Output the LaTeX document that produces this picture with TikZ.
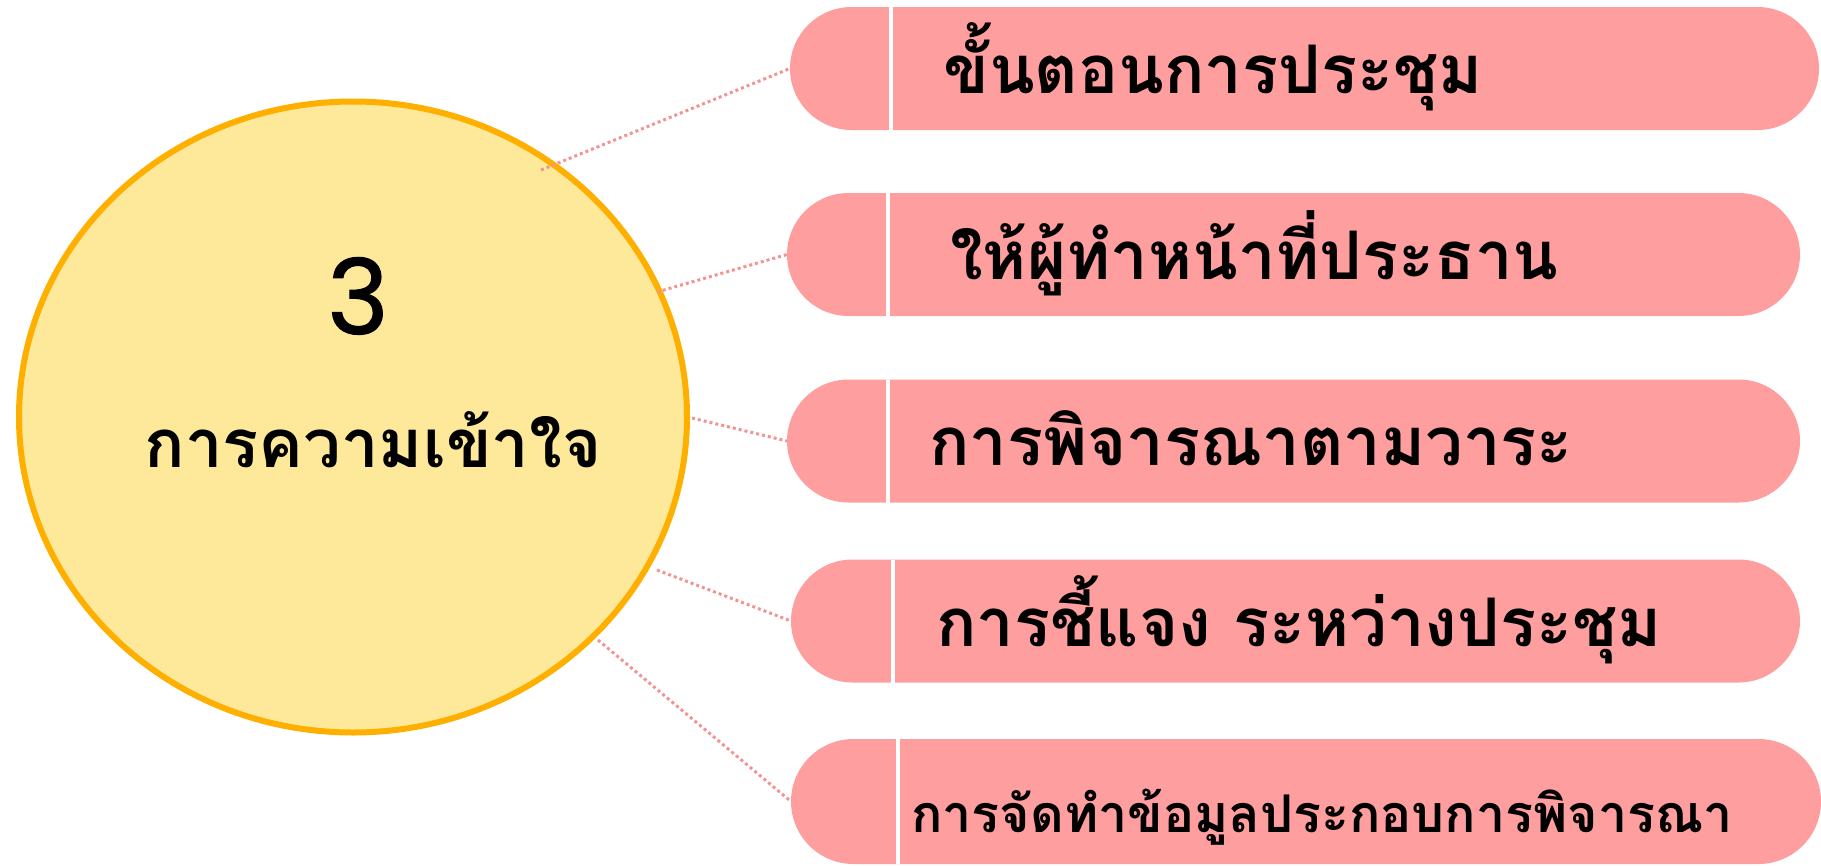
\documentclass[tikz,border=0pt]{standalone}
\usepackage{fontspec}
\newfontfamily\thai[Script=Thai]{Loma}
\newfontfamily\numfont[FakeBold=1.2]{Poppins}
\usetikzlibrary{shapes.geometric,shapes.misc}
\definecolor{barpink}{HTML}{FE9E9E}
\definecolor{circfill}{HTML}{FEE99B}
\definecolor{circedge}{HTML}{FFAF00}
\definecolor{dotpink}{HTML}{F29494}
\begin{document}
\begin{tikzpicture}[x=1pt,y=-1pt,
  bar/.style={rounded rectangle, fill=barpink, inner sep=0pt, outer sep=0pt, minimum height=123pt},
  divider/.style={draw=white, line width=4pt},
  link/.style={draw=dotpink, line width=3pt, dash pattern=on 3pt off 3pt},
  lbl/.style={font=\thai\bfseries\fontsize{67}{71}\selectfont, inner sep=0pt, anchor=base west},
  hub/.style={ellipse, fill=circfill, draw=circedge, line width=6pt, inner sep=0pt, outer sep=0pt}]
\useasboundingbox (0,0) rectangle (1821,865);
% hub
\node[hub, minimum width=668pt, minimum height=631pt] (c) at (353,417) {};
\node[font=\numfont\fontsize{104}{104}\selectfont, inner sep=0pt, anchor=base] (n3) at (358,334) {3};
\node[font=\thai\bfseries\fontsize{67}{71}\selectfont, inner sep=0pt, anchor=base] (ct) at (373,467) {การความเข้าใจ};
% bars
\node[bar, minimum width=1029pt] (b1) at (1304.5,68.5) {};
\node[bar, minimum width=1013pt] (b2) at (1293.5,254.5) {};
\node[bar, minimum width=1013pt] (b3) at (1293.5,441) {};
\node[bar, minimum width=1009pt] (b4) at (1295.5,621) {};
\node[bar, minimum width=1030pt, minimum height=125pt] (b5) at (1306,801.5) {};
% dividers (north west anchor sits at the end of the round cap)
\draw[divider] ([xshift=39.5pt]b1.north west) -- ([xshift=39.5pt]b1.south west);
\draw[divider] ([xshift=39.5pt]b2.north west) -- ([xshift=39.5pt]b2.south west);
\draw[divider] ([xshift=39.5pt]b3.north west) -- ([xshift=39.5pt]b3.south west);
\draw[divider] ([xshift=40.5pt]b4.north west) -- ([xshift=40.5pt]b4.south west);
\draw[divider] ([xshift=44.5pt]b5.north west) -- ([xshift=44.5pt]b5.south west);
% labels
\node[lbl] (t1) at (943,93) {ขั้นตอนการประชุม};
\node[lbl] (t2) at (950,279) {ให้ผู้ทำหน้าที่ประธาน};
\node[lbl] (t3) at (929,465) {การพิจารณาตามวาระ};
\node[lbl] (t4) at (936,646) {การชี้แจง ระหว่างประชุม};
\node[lbl, font=\thai\bfseries\fontsize{52}{56}\selectfont] (t5) at (911,832) {การจัดทำข้อมูลประกอบการพิจารณา};
% connectors
\coordinate (s1) at (541,170);
\coordinate (s2) at (657,292);
\coordinate (s3) at (692,418);
\coordinate (s4) at (657,570);
\coordinate (s5) at (598,640);
\draw[link] (s1) -- (b1.west);
\draw[link] (s2) -- (b2.west);
\draw[link] (s3) -- (b3.west);
\draw[link] (s4) -- (b4.west);
\draw[link] (s5) -- (b5.west);
\end{tikzpicture}
\end{document}
